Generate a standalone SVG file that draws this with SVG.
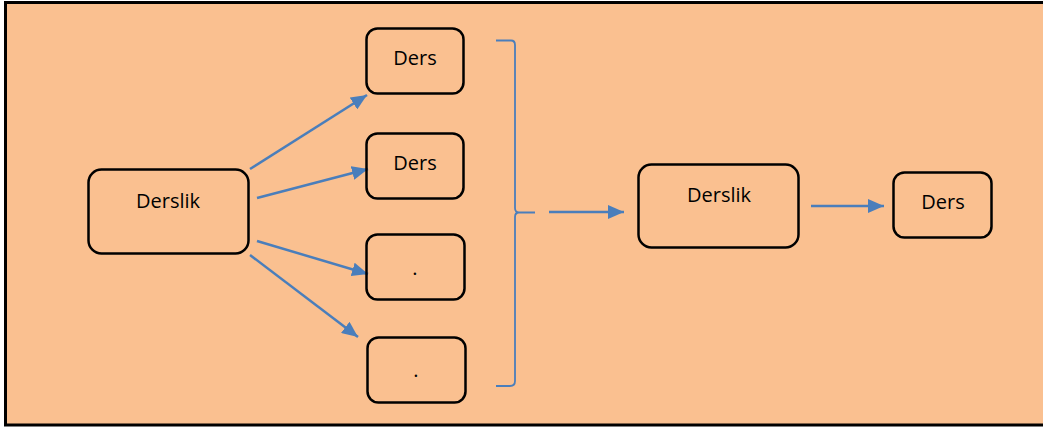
<svg xmlns="http://www.w3.org/2000/svg" width="1043" height="427" viewBox="0 0 1043 427">
<defs>
<style>
.node rect{fill:none;stroke:#000;stroke-width:2.5}
.node text{font-family:"Open Sans","Liberation Sans",sans-serif;font-size:20px;fill:#000;text-anchor:middle}
.conn{stroke:#4A7EBB;stroke-width:2.5;fill:none}
.br{stroke:#4A7EBB;stroke-width:1.8;fill:none}
</style>
<marker id="ah" markerUnits="userSpaceOnUse" markerWidth="17" markerHeight="14" viewBox="0 0 17 14" refX="16" refY="7" orient="auto">
<path d="M0,0 L16,7 L0,14 Z" fill="#4A7EBB"/>
</marker>
</defs>
<rect x="0" y="0" width="1043" height="427" fill="#FFFFFF"/>
<rect x="5.5" y="2.5" width="1045" height="422.5" fill="#FAC090" stroke="#000" stroke-width="3"/>
<g id="connectors">
<line class="conn" x1="250" y1="169" x2="367" y2="95" marker-end="url(#ah)"/>
<line class="conn" x1="257" y1="198" x2="368" y2="169" marker-end="url(#ah)"/>
<line class="conn" x1="257" y1="241" x2="368" y2="274" marker-end="url(#ah)"/>
<line class="conn" x1="250" y1="255" x2="358" y2="337" marker-end="url(#ah)"/>
<path class="br" d="M496,40.5 L511,40.5 Q515,40.5 515,45 L515,208 Q515,212.5 519,212.5 L535,212.5 M519,212.5 Q515,212.5 515,217 L515,381 Q515,386 510,386 L496,386"/>
<line class="conn" x1="549" y1="212" x2="624" y2="212" marker-end="url(#ah)"/>
<line class="conn" x1="811" y1="206" x2="884" y2="206" marker-end="url(#ah)"/>
</g>
<g id="n-derslik1" class="node"><rect x="88.5" y="169.5" width="160" height="84" rx="13"/><text x="168" y="208">Derslik</text></g>
<g id="n-ders1" class="node"><rect x="366.5" y="28.5" width="97" height="65" rx="11"/><text x="415" y="65">Ders</text></g>
<g id="n-ders2" class="node"><rect x="366.5" y="133.5" width="97" height="65" rx="11"/><text x="415" y="170">Ders</text></g>
<g id="n-dot1" class="node"><rect x="366.5" y="234.5" width="98" height="65" rx="11"/><text x="415" y="275">.</text></g>
<g id="n-dot2" class="node"><rect x="367.5" y="337.5" width="98" height="65" rx="11"/><text x="416" y="377">.</text></g>
<g id="n-derslik2" class="node"><rect x="638.5" y="164.5" width="160" height="83" rx="13"/><text x="719" y="202">Derslik</text></g>
<g id="n-ders3" class="node"><rect x="893.5" y="172.5" width="98" height="65" rx="11"/><text x="943" y="209">Ders</text></g>
</svg>
